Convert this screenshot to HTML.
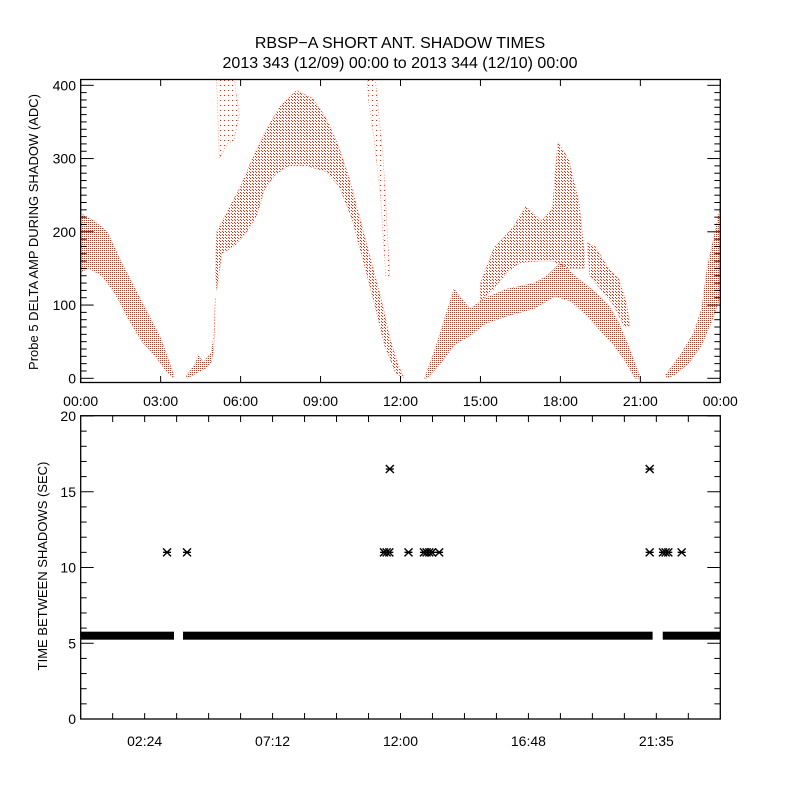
<!DOCTYPE html>
<html><head><meta charset="utf-8"><style>
html,body{margin:0;padding:0;background:#fff;}
svg{display:block;font-family:"Liberation Sans",sans-serif;}
</style></head><body>
<svg id="chart" width="800" height="800" viewBox="0 0 800 800" xmlns="http://www.w3.org/2000/svg">
<defs>
<pattern id="dense" width="2" height="2" patternUnits="userSpaceOnUse"><rect width="1" height="1" fill="#ff2200"/></pattern>
<pattern id="mid" width="3" height="3" patternUnits="userSpaceOnUse"><rect width="1" height="1" fill="#ff2200"/><rect x="1" y="1" width="1" height="1" fill="#ff2200"/></pattern>
<pattern id="sparse" width="4" height="5" patternUnits="userSpaceOnUse"><rect width="1" height="1" fill="#ff2200"/></pattern>
<clipPath id="topClip"><rect x="81" y="80" width="639" height="302"/></clipPath>
</defs>
<rect width="800" height="800" fill="#fff"/>
<text x="400" y="48" text-anchor="middle" font-size="16">RBSP−A SHORT ANT. SHADOW TIMES</text>
<text x="400" y="68" text-anchor="middle" font-size="16">2013 343 (12/09) 00:00 to 2013 344 (12/10) 00:00</text>
<g id="topPanel"></g>
<g id="bottomPanel"></g>
</svg>
<script>
const bandAHours = [0,0.5,1,1.5,2,2.5,3,3.3,3.5, 3.5,3.2,2.8,2.3,1.8,1.3,0.8,0.3,0];
const bandAVals  = [225,215,200,160,125,90,55,25,3, 0,10,30,50,80,115,140,150,145];
const bandBHours = [3.95,4.3,4.4,4.6,4.9,5.0,5.05, 5.0,4.9,4.7,4.4,4.0];
const bandBVals  = [3,20,32,22,35,60,110, 40,22,14,8,0];
const archHours = [5.05,5.1,5.5,6,6.5,7,7.5,8.1,8.7,9.2,9.7,10.1,10.5,10.9,11.3,11.6,11.9,12.1, 12.1,11.8,11.4,11.0,10.6,10.2,9.7,9.2,8.5,7.8,7.3,6.9,6.6,6.2,5.8,5.3,5.1];
const archVals  = [150,200,228,262,305,342,372,393,382,356,315,270,215,160,105,55,20,2, 0,8,45,105,160,215,262,282,290,290,278,258,222,198,182,170,120];
const sparse1Hours = [5.1,5.75,5.95,5.75,5.5,5.2];
const sparse1Vals  = [410,410,360,325,320,300];
const sparse2Hours = [10.75,11.05,11.35,11.6,11.45,11.25,11.0,10.8];
const sparse2Vals  = [410,410,300,140,140,250,330,380];
const lowerHours = [12.9,13.3,13.9,14.0,14.6,15.2,16,17,17.5,18,18.7,19.3,19.8,20.2,20.6,21.0, 20.8,20.4,20.0,19.5,19.0,18.4,17.8,17,16,15.2,14.6,14.0,13.5,13.0];
const lowerVals  = [0,40,110,122,95,110,122,130,140,158,135,118,100,75,40,0, 0,25,45,65,85,105,112,95,85,75,58,45,20,0];
const upperHours = [15.0,15.5,16.2,16.7,17.3,17.7,17.9,18.3,18.7,18.9, 18.9,18.3,17.7,17.2,16.5,16,15.5,15.0];
const upperVals  = [130,178,205,235,215,232,322,300,240,170, 150,150,160,160,158,145,122,105];
const rightHours = [19.0,19.3,19.8,20.2,20.5,20.6, 20.4,20.0,19.5,19.1];
const rightVals  = [185,180,150,135,100,70, 70,100,122,140];
const bandFHours = [21.95,22.5,23.0,23.3,23.5,23.8,24, 24,23.7,23.3,22.8,22.3,22.0];
const bandFVals  = [5,32,62,95,150,200,235, 110,80,45,20,5,0];
const topXTicks = ["00:00","03:00","06:00","09:00","12:00","15:00","18:00","21:00","00:00"];
const topYTicks = [0,100,200,300,400];

const bandSegStart = [0.0, 3.84, 21.84];
const bandSegEnd   = [3.5, 21.46, 24.0];
const bandValue = 5.5;
const outlierHours = [3.24,3.99,11.38,11.48,11.58,12.3,12.88,12.98,13.08,13.18,13.45,21.35,21.85,21.95,22.05,22.55,11.6,21.35];
const outlierVals  = [11,11,11,11,11,11,11,11,11,11,11,11,11,11,11,11,16.5,16.5];
const botXTicks = ["02:24","07:12","12:00","16:48","21:35"];
const botXTickHours = [2.4,7.2,12.0,16.8,21.6];
const botYTicks = [0,5,10,15,20];

const NS = "http://www.w3.org/2000/svg";
function mk(tag, attrs, parent){const e=document.createElementNS(NS,tag);for(const k in attrs)e.setAttribute(k,attrs[k]);parent.appendChild(e);return e;}
const L=80.7, R=720.3;
const xT = h => L + h*(R-L)/24;
const yT = v => 378.3 - v*0.7325;
const yB = v => 719 - v*15.15;

const topG = document.getElementById('topPanel');
const botG = document.getElementById('bottomPanel');

const dataG = mk('g',{'clip-path':'url(#topClip)'},topG);
function band(hours, vals, fill, name){
  const pts = hours.map((h,i)=>xT(h).toFixed(1)+','+yT(vals[i]).toFixed(1)).join(' ');
  const p = mk('polygon',{points:pts,fill:fill,stroke:'#ff2200','stroke-width':'0.6','stroke-opacity':'0.7','stroke-dasharray':'1 2'},dataG);
  
  
}
band(bandAHours,bandAVals,'url(#dense)','series-early-decline');
band(bandBHours,bandBVals,'url(#dense)','series-early-rise');
band(archHours,archVals,'url(#mid)','series-main-arch');
band(sparse1Hours,sparse1Vals,'url(#sparse)','series-sparse-0530');
band(sparse2Hours,sparse2Vals,'url(#sparse)','series-sparse-1100');
band(lowerHours,lowerVals,'url(#dense)','series-afternoon-lower');
band(upperHours,upperVals,'url(#mid)','series-afternoon-upper');
band(rightHours,rightVals,'url(#mid)','series-evening-branch');
band(bandFHours,bandFVals,'url(#dense)','series-late-rise');

const tf = mk('rect',{x:L,y:79.5,width:R-L,height:303,fill:'none',stroke:'#000','stroke-width':'1.3'},topG);


topXTicks.forEach((t,i)=>{
  const x = xT(i*3);
  mk('line',{x1:x,y1:382.7,x2:x,y2:376,stroke:'#000'},topG);
  mk('line',{x1:x,y1:79.5,x2:x,y2:86,stroke:'#000'},topG);
  const tx = mk('text',{x:x,y:406,'text-anchor':'middle','font-size':'14'},topG);
  tx.textContent=t;
  
  
});
for(let v=0; v<=400; v+=10){
  const y=yT(v), len = v%100===0?13:6;
  mk('line',{x1:L,y1:y,x2:L+len,y2:y,stroke:'#000'},topG);
  mk('line',{x1:R,y1:y,x2:R-len,y2:y,stroke:'#000'},topG);
}
topYTicks.forEach(v=>{
  const tx = mk('text',{x:76,y:yT(v)+5,'text-anchor':'end','font-size':'14'},topG);
  tx.textContent=v;
  
  
});
const yt1 = mk('text',{x:0,y:0,'text-anchor':'middle','font-size':'13',transform:'translate(38,232) rotate(-90)'},topG);
yt1.textContent='Probe 5 DELTA AMP DURING SHADOW (ADC)';



bandSegStart.forEach((s,i)=>{
  const r = mk('rect',{x:xT(s),y:yB(bandValue)-4,width:xT(bandSegEnd[i])-xT(s),height:8,fill:'#000'},botG);
  
  
});
outlierHours.forEach((h,i)=>{
  const cx=xT(h), cy=yB(outlierVals[i]), s=4;
  const d=`M${cx-s},${cy}H${cx+s}M${cx-s},${cy-s}L${cx+s},${cy+s}M${cx-s},${cy+s}L${cx+s},${cy-s}`;
  const t = mk('path',{d:d,stroke:'#000','stroke-width':'1.4',fill:'none'},botG);
  
  
});
const bf = mk('rect',{x:L,y:415.7,width:R-L,height:303.3,fill:'none',stroke:'#000','stroke-width':'1.3'},botG);


for(let k=1;k<20;k++){
  const x=xT(k*1.2);
  mk('line',{x1:x,y1:719,x2:x,y2:713,stroke:'#000'},botG);
  mk('line',{x1:x,y1:415.7,x2:x,y2:422,stroke:'#000'},botG);
}
botXTicks.forEach((t,i)=>{
  const tx = mk('text',{x:xT(botXTickHours[i]),y:746,'text-anchor':'middle','font-size':'14'},botG);
  tx.textContent=t;
  
  
});
for(let v=0; v<=20; v++){
  const y=yB(v), len = v%5===0?13:6;
  mk('line',{x1:L,y1:y,x2:L+len,y2:y,stroke:'#000'},botG);
  mk('line',{x1:R,y1:y,x2:R-len,y2:y,stroke:'#000'},botG);
}
botYTicks.forEach(v=>{
  const tx = mk('text',{x:76,y:yB(v)+5,'text-anchor':'end','font-size':'14'},botG);
  tx.textContent=v;
  
  
});
const yt2 = mk('text',{x:0,y:0,'text-anchor':'middle','font-size':'13',transform:'translate(47,566) rotate(-90)'},botG);
yt2.textContent='TIME BETWEEN SHADOWS (SEC)';


</script>
</body></html>
